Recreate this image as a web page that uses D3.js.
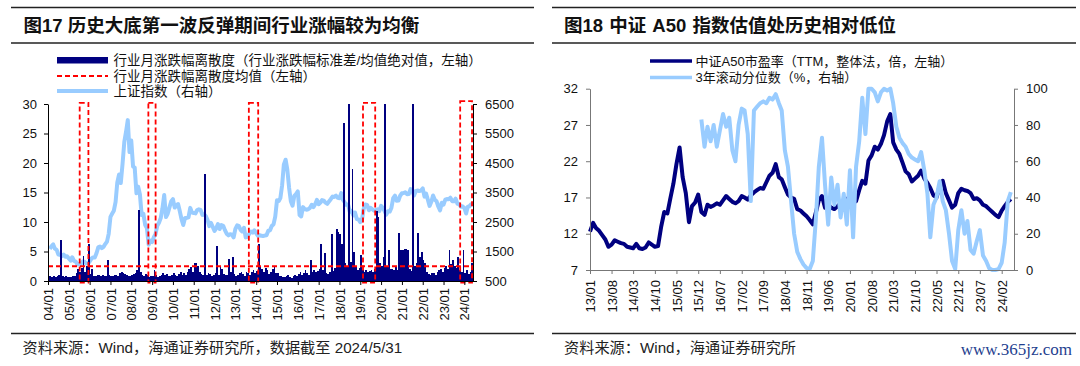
<!DOCTYPE html>
<html><head><meta charset="utf-8">
<script src="https://cdn.jsdelivr.net/npm/d3@7"></script>
<style>body{margin:0;background:#fff}svg{display:block}</style>
</head><body><svg id="c" width="1080" height="366"></svg>
<script>
// ---------------- DATA: left chart (图17) ----------------
const leftTitle = "图17 历史大底第一波反弹期间行业涨幅较为均衡";
const leftLegend = ["行业月涨跌幅离散度（行业涨跌幅标准差/均值绝对值，左轴）","行业月涨跌幅离散度均值（左轴）","上证指数（右轴）"];
const leftSource = "资料来源：Wind，海通证券研究所，数据截至 2024/5/31";
const monthStart = "2004-01", monthEnd = "2024-06";
// monthly dispersion 2004/01 .. 2024/05
const dispersion = [
 0.8,0.9,0.7,0.8,0.6,0.9,1.0,7.0,0.8,0.7,0.9,0.6,
 0.7,0.6,0.9,0.8,1.3,2.0,1.6,2.2,4.3,1.5,2.6,6.3,
 1.2,2.1,0.9,0.8,1.0,1.1,0.9,1.0,0.8,0.9,3.5,1.0,
 0.9,0.8,1.0,1.1,0.9,1.3,1.6,1.4,1.2,1.0,0.9,0.8,
 1.0,1.2,1.4,1.8,12.1,1.5,1.0,0.9,1.2,1.1,0.7,0.9,
 0.8,1.9,1.0,0.7,0.9,1.1,1.3,1.0,1.2,0.9,0.8,1.1,
 1.4,1.0,0.9,1.2,1.5,1.1,1.3,1.0,1.6,2.0,2.3,1.5,
 3.0,3.1,2.6,1.5,1.2,1.0,18.2,1.1,1.4,1.2,0.9,1.0,
 1.3,6.0,1.1,2.3,2.0,1.2,1.0,1.1,3.8,1.5,4.1,1.2,
 0.9,1.0,1.4,1.5,1.2,0.8,1.6,1.3,1.1,1.5,1.8,1.4,
 1.7,6.2,2.6,2.0,1.5,2.2,1.8,1.2,1.5,2.0,2.3,1.4,
 1.3,0.9,0.8,0.6,0.7,0.9,1.0,0.7,0.5,0.8,1.0,0.9,
 1.2,1.5,1.0,1.3,1.8,1.4,1.1,3.5,1.6,1.9,1.5,1.7,
 2.0,6.3,1.8,4.8,1.4,1.2,1.5,7.9,1.7,2.2,8.8,8.3,
 8.0,6.3,26.8,3.0,2.5,30,3.2,18.9,5.0,2.6,1.8,2.2,
 4.4,1.8,1.6,1.9,1.5,1.7,1.8,1.6,2.0,11.8,10.9,3.0,
 2.5,4.0,30,2.6,5.3,2.0,2.1,1.8,2.3,1.9,8.2,5.2,
 5.3,5.5,5.4,5.2,2.0,1.7,30,2.5,3.0,8.2,4.0,5.0,
 3.5,3.0,1.5,1.2,1.0,1.4,1.3,1.1,1.5,1.8,2.0,1.6,
 2.2,2.5,2.0,5.3,2.8,3.5,2.5,2.2,4.0,1.8,1.5,5.2,
 1.4,1.9,1.2,1.6,3.0];
// monthly close of 上证指数 2004/01 .. 2024/05
const sseIndex = [
 1590,1675,1742,1595,1555,1400,1387,1342,1396,1320,1340,1266,
 1191,1306,1181,1159,1060,1080,1083,1162,1155,1092,1099,1161,
 1258,1299,1298,1440,1641,1672,1612,1658,1752,1837,2099,2675,
 2786,2881,3183,3841,4109,3820,4471,5218,5552,5954,4871,5262,
 4383,4348,3473,3693,3433,2736,2775,2397,2293,1729,1871,1821,
 1991,2082,2373,2477,2633,2959,3412,2667,2779,2996,3195,3277,
 2989,3051,3110,2870,2592,2398,2638,2639,2656,2979,2820,2808,
 2791,2905,2928,2911,2743,2762,2701,2568,2359,2468,2333,2199,
 2292,2428,2262,2397,2373,2225,2103,2047,2086,2069,1980,2269,
 2385,2366,2237,2178,2301,1979,1994,2098,2175,2141,2220,2116,
 2033,2056,2033,2026,2039,2048,2202,2217,2364,2420,2683,3235,
 3210,3310,3748,4442,4612,4277,3664,3206,3053,3383,3446,3539,
 2738,2688,3004,2938,2917,2930,2979,3085,3005,3100,3250,3104,
 3159,3242,3223,3155,3117,3192,3273,3361,3349,3393,3317,3307,
 3481,3259,3169,3082,3095,2847,2876,2725,2821,2603,2588,2494,
 2585,2941,3091,3078,2899,2979,2933,2886,2905,2929,2872,3050,
 2977,2880,2750,2860,2852,2985,3310,3396,3218,3225,3392,3473,
 3483,3509,3442,3447,3615,3591,3397,3544,3568,3547,3564,3640,
 3361,3463,3252,3047,3186,3399,3253,3202,3024,2893,3151,3089,
 3256,3280,3273,3323,3205,3202,3291,3120,3110,3018,3030,2975,
 2789,3015,3041,3105,3087];
const dispersionMean = 2.5;
const reboundWindows = [["2005-07-10","2005-12-10"],["2008-10-27","2009-03-03"],["2013-08-25","2014-02-05"],["2019-02-18","2019-09-20"],["2023-10-20","2024-05-15"]];
const windowTops = [30.2,30.2,30.2,30.2,30.5];
const leftXLabels = ["04/01","05/01","06/01","07/01","08/01","09/01","10/01","11/01","12/01","13/01","14/01","15/01","16/01","17/01","18/01","19/01","20/01","21/01","22/01","23/01","24/01"];
const leftYTicks = [0,5,10,15,20,25,30];
const leftY2Ticks = [500,1500,2500,3500,4500,5500,6500];

// ---------------- DATA: right chart (图18) ----------------
const rightTitle = "图18 中证 A50 指数估值处历史相对低位";
const rightLegend = ["中证A50市盈率（TTM，整体法，倍，左轴）","3年滚动分位数（%，右轴）"];
const rightSource = "资料来源：Wind，海通证券研究所";
const watermark = "www.365jz.com";
const peStart = "2013-01", peEnd = "2024-06";
// monthly PE 2013/01 .. 2024/05
const a50PE = [
 12.3,13.5,12.8,12.4,11.8,11.2,10.2,10.5,11.1,10.9,10.7,10.6,
 10.2,10.1,10.0,10.6,10.0,9.9,10.1,10.8,10.5,10.2,10.3,12.9,
 15.0,14.8,16.8,18.9,21.6,23.9,19.8,17.6,13.6,15.8,16.3,17.4,
 15.0,14.6,16.0,15.7,15.9,16.2,16.0,16.6,17.2,16.8,16.4,16.2,
 16.5,17.2,17.0,16.7,17.3,17.7,18.0,18.3,18.2,19.1,20.0,20.4,
 21.6,19.8,19.5,18.4,17.4,17.0,16.8,15.4,15.2,14.8,14.4,13.9,
 13.3,15.0,16.6,17.2,15.6,16.0,15.6,15.4,15.8,16.2,16.0,16.8,
 16.5,17.0,16.5,18.0,19.3,18.9,22.1,22.8,24.0,23.6,24.4,25.6,
 27.5,28.5,24.6,23.6,23.0,21.8,20.6,20.2,19.2,19.6,20.0,20.7,
 19.6,19.0,18.3,17.3,17.0,18.6,19.3,17.6,16.6,15.6,16.0,17.6,
 18.2,18.0,17.9,17.6,16.8,16.9,16.6,16.0,15.8,15.4,15.0,14.6,
 14.3,15.2,15.8,16.4,16.8];
// 3-year rolling percentile, starts 2016/01
const pePercentile = [
 null,null,null,null,null,null,null,null,null,null,null,null,
 null,null,null,null,null,null,null,null,null,null,null,null,
 null,null,null,null,null,null,null,null,null,null,null,null,
 83,68,79,71,80,68,77,86,79,84,66,60,
 80,89,88,75,38,88,90,92,93,92,95,94,
 97,92,88,66,57,38,20,10,6,3,1,0.5,
 5,29,57,73,47,25,51,36,47,29,42,25,
 55,18,57,71,95,75,100,100,98,93,98,100,
 99,100,92,79,73,70,68,64,62,61,60,65,
 55,42,18,36,40,49,38,33,20,5,0.5,22,
 33,20,27,11,9,16,22,8,5,1,0,0,
 0.5,4,15,38,43];
const rightXLabels = ["13/01","13/08","14/03","14/10","15/05","15/12","16/07","17/02","17/09","18/04","18/11","19/06","20/01","20/08","21/03","21/10","22/05","22/12","23/07","24/02"];
const rightYTicks = [7,12,17,22,27,32];
const rightY2Ticks = [0,20,40,60,80,100];

// ---------------- DRAW ----------------
const NAVY = "#000080", LIGHT = "#99CCFF", RED = "#FF0000";
const FONT = "'Liberation Sans','Noto Sans CJK SC',sans-serif";
const svg = d3.select("#c").attr("font-family", FONT);
svg.append("rect").attr("width",1080).attr("height",366).attr("fill","#fff");

function rules(x0,x1){
  [7.5,43,333.5].forEach(y => svg.append("line").attr("x1",x0).attr("x2",x1)
    .attr("y1",y).attr("y2",y).attr("stroke","#222").attr("stroke-width",1.5));
}
rules(11,534); rules(552,1076);

svg.append("text").attr("x",23.5).attr("y",31.5).attr("font-size",18.5).attr("font-weight","bold").attr("fill","#111").text(leftTitle);
svg.append("text").attr("x",564).attr("y",31.5).attr("font-size",18.5).attr("font-weight","bold").attr("word-spacing",1).attr("fill","#111").text(rightTitle);
svg.append("text").attr("x",22.5).attr("y",353).attr("font-size",15.2).attr("fill","#222").text(leftSource);
svg.append("text").attr("x",564).attr("y",353).attr("font-size",15.2).attr("fill","#222").text(rightSource);
svg.append("text").attr("x",1072).attr("y",355).attr("text-anchor","end").attr("font-family","'Liberation Serif',serif")
  .attr("font-size",17).attr("fill","#1f3f8f").text(watermark);

// ----- left chart
const pm = d3.timeParse("%Y-%m"), pd = d3.timeParse("%Y-%m-%d"), pl = d3.timeParse("%y/%m");
const months = d3.timeMonth.range(pm(monthStart), pm(monthEnd));
const xL = d3.scaleTime().domain([pm(monthStart), pm(monthEnd)]).range([48,473]);
const yL = d3.scaleLinear().domain([0,30]).range([281,104]).clamp(true);
const yLfree = yL.copy().clamp(false);
const yL2 = d3.scaleLinear().domain([500,6500]).range([281,104]);

const sseLine = d3.line().x((d,i)=>xL(d3.timeMonth.offset(months[i],1))).y(d=>yL2(d));
svg.append("path").datum(sseIndex).attr("d",sseLine).attr("fill","none")
  .attr("stroke",LIGHT).attr("stroke-width",4).attr("stroke-linejoin","round");

svg.append("g").selectAll("rect").data(dispersion).join("rect")
  .attr("x",(d,i)=>xL(months[i]))
  .attr("width",(d,i)=>xL(d3.timeMonth.offset(months[i],1))-xL(months[i]))
  .attr("y",d=>yL(d)).attr("height",d=>yL(0)-yL(d))
  .attr("fill",NAVY).attr("shape-rendering","crispEdges");

svg.append("line").attr("x1",xL.range()[0]).attr("x2",xL.range()[1])
  .attr("y1",yL(dispersionMean)).attr("y2",yL(dispersionMean))
  .attr("stroke",RED).attr("stroke-width",2).attr("stroke-dasharray","5,3");

svg.append("g").selectAll("rect").data(reboundWindows).join("rect")
  .attr("x",d=>xL(pd(d[0]))).attr("width",d=>xL(pd(d[1]))-xL(pd(d[0])))
  .attr("y",(d,i)=>yLfree(windowTops[i]))
  .attr("height",(d,i)=>yLfree(-0.25)-yLfree(windowTops[i]))
  .attr("fill","none").attr("stroke",RED).attr("stroke-width",1.8).attr("stroke-dasharray","5,3");

function styleAxis(g, color){
  g.attr("font-family",FONT).attr("font-size",13);
  g.selectAll("path,line").attr("stroke",color);
  g.selectAll("text").attr("fill","#111");
}
const gxL = svg.append("g").attr("transform","translate(0,281)")
  .call(d3.axisBottom(xL).tickValues(leftXLabels.map(pl)).tickFormat(d3.timeFormat("%y/%m")).tickSize(4).tickSizeOuter(0));
gxL.selectAll("text").attr("transform","rotate(-90)").attr("text-anchor","end").attr("x",-7).attr("y",0).attr("dy","0.35em");
styleAxis(gxL,"#000");
const gyL = svg.append("g").attr("transform","translate(48,0)")
  .call(d3.axisLeft(yL).tickValues(leftYTicks).tickFormat(d3.format("d")).tickSize(4).tickPadding(7).tickSizeOuter(0));
styleAxis(gyL,"#000");
const gyL2 = svg.append("g").attr("transform","translate(473,0)")
  .call(d3.axisRight(yL2).tickValues(leftY2Ticks).tickFormat(d3.format("d")).tickSize(4).tickPadding(8).tickSizeOuter(0));
styleAxis(gyL2,"#000");

// left legend
const lg = svg.append("g");
lg.append("rect").attr("x",57).attr("y",57).attr("width",51).attr("height",6.5).attr("fill",NAVY);
lg.append("line").attr("x1",57).attr("x2",108).attr("y1",76).attr("y2",76).attr("stroke",RED).attr("stroke-width",2).attr("stroke-dasharray","5,3");
lg.append("line").attr("x1",57).attr("x2",108).attr("y1",91).attr("y2",91).attr("stroke",LIGHT).attr("stroke-width",4);
lg.selectAll("text").data(leftLegend).join("text").attr("x",113.5).attr("y",(d,i)=>[60,76,91][i])
  .attr("dy","0.35em").attr("font-size",13.5).attr("fill","#111").text(d=>d);

// ----- right chart
const peMonths = d3.timeMonth.range(pm(peStart), pm(peEnd));
const xR = d3.scaleTime().domain([pm(peStart), pm(peEnd)]).range([590,1014]);
const yR = d3.scaleLinear().domain([7,32]).range([270,88.7]);
const yR2 = d3.scaleLinear().domain([0,100]).range([270,88.7]);

svg.append("path").datum(a50PE).attr("d", d3.line().x((d,i)=>xR(peMonths[i])).y(d=>yR(d)))
  .attr("fill","none").attr("stroke",NAVY).attr("stroke-width",4).attr("stroke-linejoin","round");
svg.append("path").datum(pePercentile).attr("d", d3.line().defined(d=>d!==null).x((d,i)=>xR(peMonths[i])).y(d=>yR2(d)))
  .attr("fill","none").attr("stroke",LIGHT).attr("stroke-width",4).attr("stroke-linejoin","round");

const gxR = svg.append("g").attr("transform","translate(0,270)")
  .call(d3.axisBottom(xR).tickValues(rightXLabels.map(pl)).tickFormat(d3.timeFormat("%y/%m")).tickSize(4).tickSizeOuter(0));
gxR.selectAll("text").attr("transform","rotate(-90)").attr("text-anchor","end").attr("x",-10).attr("y",0).attr("dy","0.35em");
styleAxis(gxR,"#777");
const gyR = svg.append("g").attr("transform","translate(590,0)")
  .call(d3.axisLeft(yR).tickValues(rightYTicks).tickFormat(d3.format("d")).tickSize(4).tickPadding(8).tickSizeOuter(0));
styleAxis(gyR,"#777");
const gyR2 = svg.append("g").attr("transform","translate(1014,0)")
  .call(d3.axisRight(yR2).tickValues(rightY2Ticks).tickFormat(d3.format("d")).tickSize(4).tickPadding(8).tickSizeOuter(0));
styleAxis(gyR2,"#777");

// right legend
const rg = svg.append("g");
rg.append("line").attr("x1",650).attr("x2",692).attr("y1",61).attr("y2",61).attr("stroke",NAVY).attr("stroke-width",3.5);
rg.append("line").attr("x1",650).attr("x2",692).attr("y1",77.5).attr("y2",77.5).attr("stroke",LIGHT).attr("stroke-width",3.5);
rg.selectAll("text").data(rightLegend).join("text").attr("x",695.5).attr("y",(d,i)=>[61,77.5][i])
  .attr("dy","0.35em").attr("font-size",13).attr("fill","#111").text(d=>d);
</script></body></html>
